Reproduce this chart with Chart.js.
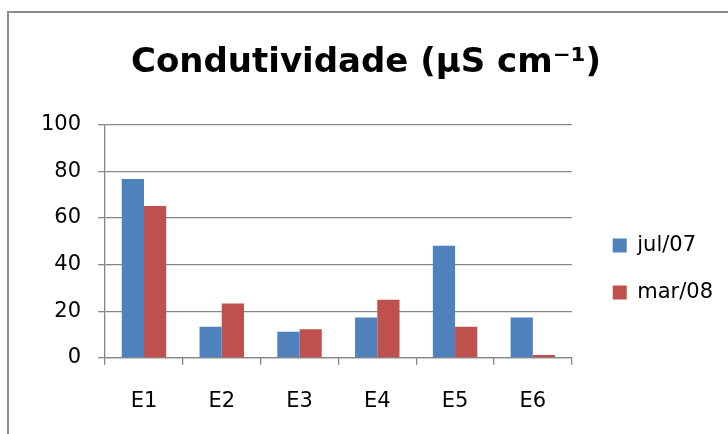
<!DOCTYPE html>
<html>
<head>
<meta charset="utf-8">
<script src="https://cdn.jsdelivr.net/npm/chart.js@4/dist/chart.umd.min.js"></script>
<style>
    body { margin: 0; background: #fff; overflow: hidden; }
    #frame {
        position: absolute; left: 7px; top: 11px;
        width: 760px; height: 460px;
        border: 2px solid #8c8c8c;
    }
    canvas { position: absolute; left: 0; top: 0; }
</style>
</head>
<body>
<div id="frame"></div>
<canvas id="chart" width="728" height="434"></canvas>
<script>
'use strict';

// dados
const estacoes = ['E1', 'E2', 'E3', 'E4', 'E5', 'E6'];
const jul07 = [76.7, 13.3, 11.2, 17.3, 48.1, 17.3];
const mar08 = [65.1, 23.3, 12.2, 24.9, 13.3, 1.2];
const serieNomes = ['jul/07', 'mar/08'];
const yTicks = [0, 20, 40, 60, 80, 100];

const fonte = '"DejaVu Sans", sans-serif';
const cinza = '#868686';

// desloca a legenda para a mesma posição do original (Excel)
const moverLegenda = {
    id: 'moverLegenda',
    afterLayout(chart) {
        let l = chart.legend;
        l.left += 15;
        l.right += 15;
        l.top += 50;
        l.bottom += 50;
    },
};

var ctx = document.getElementById('chart').getContext('2d');
var cfg = {
    type: 'bar',
    data: {
        labels: estacoes,
        datasets: [
            {
                label: serieNomes[0],
                data: jul07,
                backgroundColor: '#4f81bd',
                borderWidth: 0,
            },
            {
                label: serieNomes[1],
                data: mar08,
                backgroundColor: '#c0504d',
                borderWidth: 0,
            },
        ],
    },
    plugins: [moverLegenda],
    options: {
        responsive: false,
        animation: false,
        // gap width de 150% como no Excel
        datasets: {
            bar: { categoryPercentage: 2 / 3.5, barPercentage: 1 },
        },
        layout: {
            padding: { left: 24, right: 20, top: 0, bottom: -4 },
        },
        plugins: {
            title: {
                display: true,
                text: 'Condutividade (µS cm⁻¹)',
                color: '#000',
                font: { family: fonte, size: 34, weight: 'bold' },
                padding: { top: 43, bottom: 41 },
            },
            legend: {
                position: 'right',
                labels: {
                    color: '#000',
                    boxWidth: 14,
                    boxHeight: 14,
                    padding: 26,
                    font: { family: fonte, size: 21 },
                },
            },
            tooltip: { enabled: false },
        },
        scales: {
            x: {
                grid: {
                    drawOnChartArea: false,
                    drawTicks: true,
                    tickLength: 7,
                    color: cinza,
                    lineWidth: 1.3,
                },
                border: { color: cinza, width: 1.3 },
                ticks: {
                    color: '#000',
                    padding: 24,
                    font: { family: fonte, size: 21 },
                },
            },
            y: {
                min: 0,
                max: 100,
                afterBuildTicks: (axis) => {
                    axis.ticks = yTicks.map((v) => ({ value: v }));
                },
                grid: {
                    color: cinza,
                    lineWidth: 1.3,
                    tickLength: 7,
                },
                border: { color: cinza, width: 1.3 },
                ticks: {
                    color: '#000',
                    padding: 17,
                    font: { family: fonte, size: 21 },
                },
            },
        },
    },
};
new Chart(ctx, cfg);
</script>
</body>
</html>
